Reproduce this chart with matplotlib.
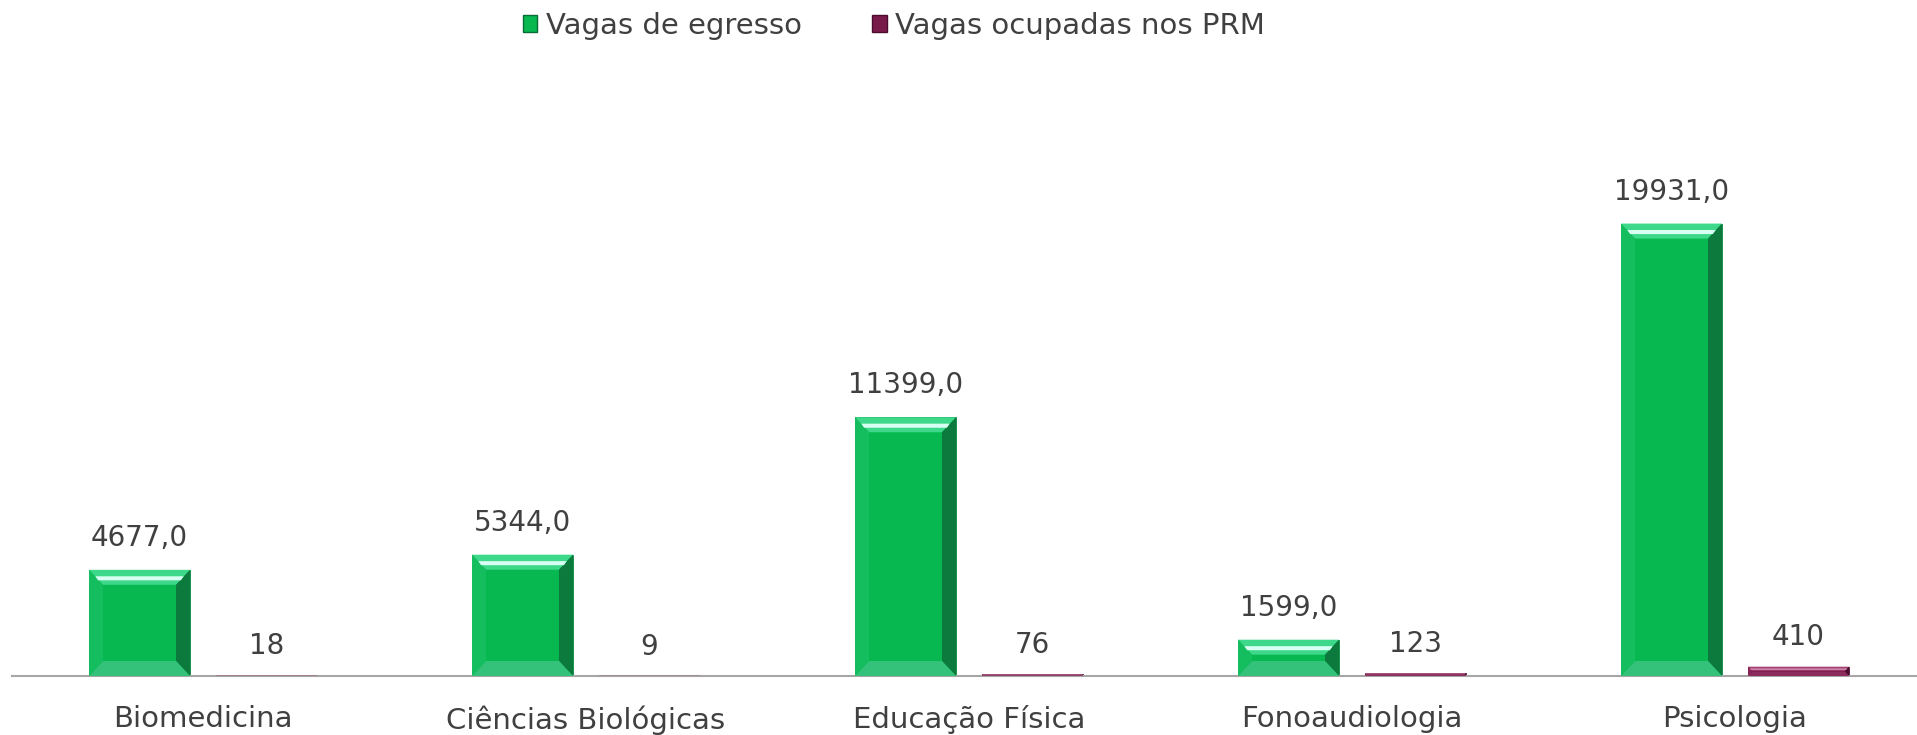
import matplotlib
matplotlib.use("Agg")
import matplotlib.pyplot as plt
from matplotlib.patches import Polygon, Patch
import numpy as np

categories = ["Biomedicina", "Ciências Biológicas", "Educação Física", "Fonoaudiologia", "Psicologia"]
vagas_egresso = [4677.0, 5344.0, 11399.0, 1599.0, 19931.0]
vagas_prm = [18, 9, 76, 123, 410]
series_names = ["Vagas de egresso", "Vagas ocupadas nos PRM"]

W, H = 1917, 735
fig = plt.figure(figsize=(W / 100, H / 100), dpi=100)
plt.rcParams['font.family'] = ['DejaVu Sans']

base_px = 676
top_px = 100
left_px = 11.5
cat_px = 383.0
ax = fig.add_axes([left_px / W, 1 - base_px / H, (5 * cat_px) / W, (base_px - top_px) / H])
px_per_unit = 0.0227
ymax = (base_px - top_px) / px_per_unit
ax.set_ylim(0, ymax)
ax.set_xlim(-0.5, 4.5)

x = np.arange(len(categories))
bw = 101 / cat_px
off = 63.5 / cat_px

green = "#07b851"
maroon = "#7a1a4a"
b1 = ax.bar(x - off, vagas_egresso, bw, color=green, edgecolor="#0a8a40", linewidth=0.6, zorder=2)
b2 = ax.bar(x + off, vagas_prm, bw, color=maroon, edgecolor="#5a1035", linewidth=0.6, zorder=2)

bev_x = 14 / cat_px
bev_y = 15 / px_per_unit

def bevel(rect, light, hl, dark, bottom, leftc):
    x0 = rect.get_x(); x1 = x0 + rect.get_width()
    y0 = rect.get_y(); y1 = y0 + rect.get_height()
    by = min(bev_y, (y1 - y0) / 2.2)
    bx = bev_x * by / bev_y
    polys = [
        ([(x0, y1), (x1, y1), (x1 - bx, y1 - by), (x0 + bx, y1 - by)], light),
        ([(x1, y1), (x1, y0), (x1 - bx, y0 + by), (x1 - bx, y1 - by)], dark),
        ([(x0, y0), (x1, y0), (x1 - bx, y0 + by), (x0 + bx, y0 + by)], bottom),
        ([(x0, y1), (x0, y0), (x0 + bx, y0 + by), (x0 + bx, y1 - by)], leftc),
    ]
    for pts, c in polys:
        ax.add_patch(Polygon(pts, closed=True, facecolor=c, edgecolor="none", zorder=3))
    ym = y1 - by * 0.55
    ax.add_patch(Polygon([(x0 + bx * 0.45, ym + by * 0.12), (x1 - bx * 0.45, ym + by * 0.12),
                          (x1 - bx * 0.65, ym - by * 0.15), (x0 + bx * 0.65, ym - by * 0.15)],
                         closed=True, facecolor=hl, edgecolor="none", zorder=4))

for r in b1:
    bevel(r, "#3ed88a", "#d8fff4", "#0b7a3c", "#34c27a", "#14bd5e")
for r in b2:
    bevel(r, "#a04070", "#e0a0c0", "#4a0c2c", "#8c2c5c", "#8a2458")

txtc = "#404040"
fs = 20
for r, v in zip(b1, vagas_egresso):
    ax.annotate(f"{v:.1f}".replace(".", ","), (r.get_x() + r.get_width() / 2, r.get_height()),
                xytext=(0, 13), textcoords="offset points", ha="center", va="bottom",
                fontsize=fs, color=txtc)
for r, v in zip(b2, vagas_prm):
    ax.annotate(f"{v}", (r.get_x() + r.get_width() / 2, r.get_height()),
                xytext=(0, 11), textcoords="offset points", ha="center", va="bottom",
                fontsize=fs, color=txtc)

ax.set_xticks(x)
ax.set_xticklabels(categories, fontsize=21, color=txtc)
ax.tick_params(axis="x", length=0, pad=21)
ax.set_yticks([])
for s in ["top", "right", "left"]:
    ax.spines[s].set_visible(False)
ax.spines["bottom"].set_color("#a6a6a6")
ax.spines["bottom"].set_linewidth(1.5)

handles = [Patch(facecolor=green, edgecolor="#0a6a34"), Patch(facecolor=maroon, edgecolor="#4a0c2c")]
fig.legend(handles, series_names, loc="center", bbox_to_anchor=(894 / W, 1 - 26 / H), ncol=2,
           frameon=False, fontsize=21, labelcolor=txtc, handlelength=0.5, handleheight=0.5,
           handletextpad=0.3, columnspacing=2.4)

fig.savefig("out.png", dpi=100)
